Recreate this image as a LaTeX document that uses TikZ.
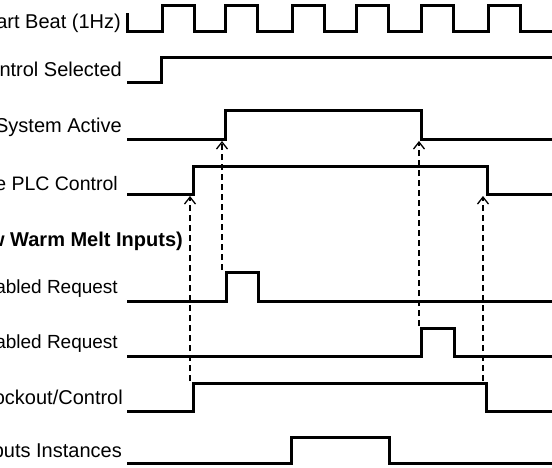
\documentclass[tikz,border=0pt]{standalone}
\usepackage{fontspec}
\setmainfont{Liberation Sans}
\usepackage{tikz}
\usetikzlibrary{arrows.meta}

\begin{document}
\begin{tikzpicture}[
  x=1pt, y=-1pt,
  wave/.style={line width=3pt, line join=miter},
  cause/.style={line width=1.3pt, dash pattern=on 6pt off 4pt,
                -{Straight Barb[length=7pt, width=11pt, line width=1.3pt]}},
  lbl/.style={anchor=base east, inner sep=0pt,
              font=\fontsize{20}{23}\selectfont},
  lbls/.style={lbl, font=\fontsize{19}{22}\selectfont},
  hdr/.style={lbl, font=\fontsize{20}{23}\selectfont\bfseries}
]
\useasboundingbox (0,0) rectangle (552,467);
\clip (0,0) rectangle (552,467);

% Labels
\node[lbl]  (hbLbl)  at (121,28)  {art Beat (1Hz)};
\node[lbl]  (csLbl)  at (122,76)  {ntrol Selected};
\node[lbl]  (saLbl)  at (122,132) {System Active};
\node[lbls, font=\fontsize{19.5}{22}\selectfont] (plcLbl) at (118,190) {e PLC Control};
\node[hdr]  (wmLbl)  at (183,246) {w Warm Melt Inputs)};
\node[lbls] (enLbl)  at (118,293) {sabled Request};
\node[lbls] (disLbl) at (118,348) {sabled Request};
\node[lbl]  (loLbl)  at (123,404) {ockout/Control};
\node[lbl]  (outLbl) at (122,457) {puts Instances};

% Heart beat
\draw[wave] (127,13) -- (127,31)
  \foreach \r in {162,225,292,356,421,488} { -- (\r,31) -- (\r,5) -- (\r+32,5) -- (\r+32,31) }
  -- (552,31);

% Control selected
\draw[wave] (127,82) -- (161,82) -- (161,57) -- (552,57);

% System active
\draw[wave] (127,139) -- (225,139) -- (225,110) -- (421,110) -- (421,139) -- (552,139);

% PLC control
\draw[wave] (127,194) -- (193,194) -- (193,166) -- (487,166) -- (487,194) -- (552,194);

% Requests
\draw[wave] (127,301) -- (226,301) -- (226,272) -- (258,272) -- (258,301) -- (552,301);
\draw[wave] (127,356) -- (421,356) -- (421,328) -- (454,328) -- (454,356) -- (552,356);

% Lockout/control
\draw[wave] (127,411) -- (193,411) -- (193,383) -- (486,383) -- (486,411) -- (552,411);

% Outputs
\draw[wave] (127,463) -- (291,463) -- (291,437) -- (389,437) -- (389,463) -- (552,463);

% Cause points
\coordinate (lo1)  at (190,381);
\coordinate (plc1) at (190,196);
\coordinate (en1)  at (222,270);
\coordinate (sa1)  at (222,141);
\coordinate (dis1) at (419,326);
\coordinate (sa2)  at (419,141);
\coordinate (lo2)  at (483,381);
\coordinate (plc2) at (483,196);

% Cause arrows
\draw[cause] (lo1) -- (plc1);
\draw[cause] (en1) -- (sa1);
\draw[cause] (dis1) -- (sa2);
\draw[cause] (lo2) -- (plc2);

\end{tikzpicture}
\end{document}
